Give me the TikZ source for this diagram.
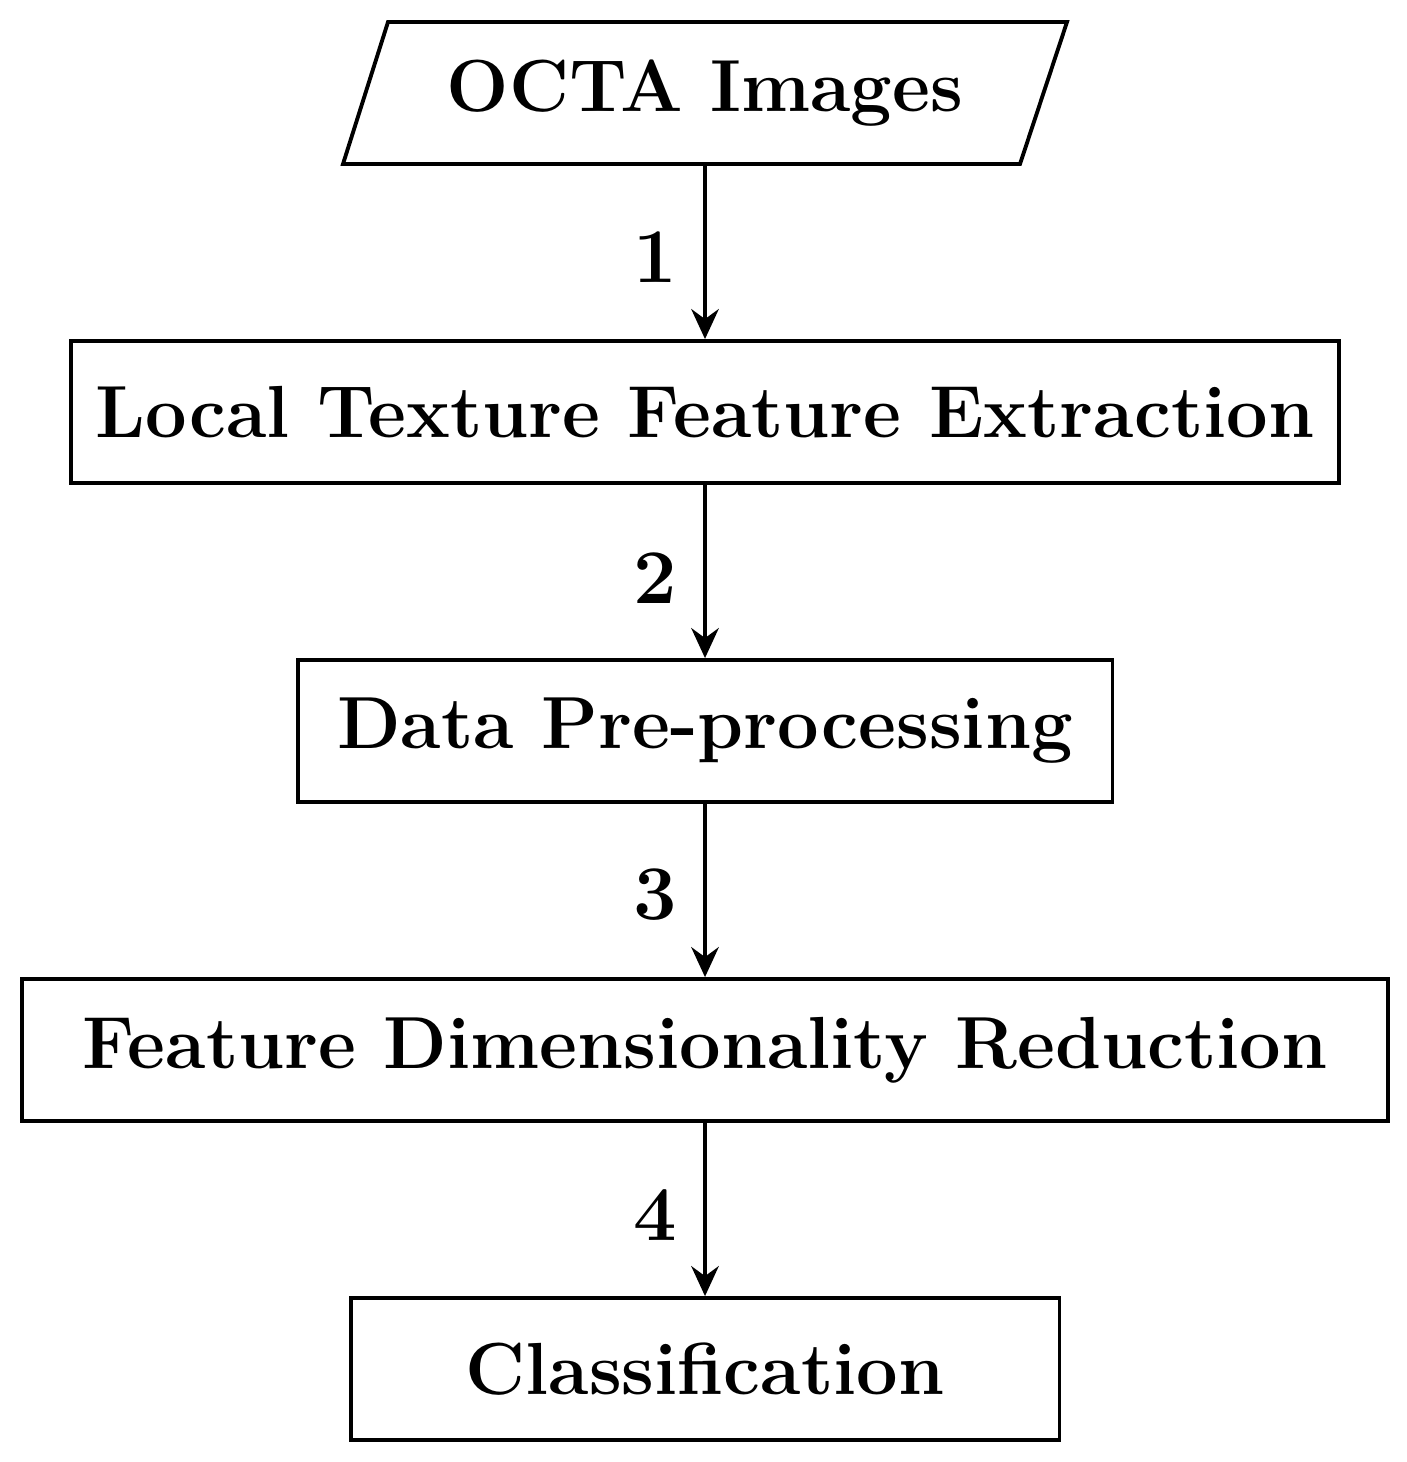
\documentclass[tikz,border=0pt]{standalone}
\usetikzlibrary{arrows.meta}
\begin{document}
\begin{tikzpicture}[x=0.02cm,y=-0.02cm,
  box/.style={draw,line width=2.2pt,minimum height=2.84cm,inner sep=0pt,font=\fontsize{42}{52}\selectfont\bfseries},
  lab/.style={font=\fontsize{44}{54}\selectfont\bfseries},
  arr/.style={line width=2.2pt,-{Stealth[length=0.6cm,width=0.55cm,inset=0.2cm]}}]
\useasboundingbox (0,0) rectangle (1406,1462);
\draw[line width=2.2pt] (388,22) -- (1067,22) -- (1020,164) -- (343,164) -- cycle;
\node[box,draw=none,minimum height=2.84cm] (in) at (705,93) {OCTA Images};
\node[box,minimum width=25.36cm] (b1) at (705,412) {Local Texture Feature Extraction};
\node[box,minimum width=16.3cm] (b2) at (705,731) {Data Pre-processing};
\node[box,minimum width=27.32cm] (b3) at (705,1050) {Feature Dimensionality Reduction};
\node[box,minimum width=14.18cm] (b4) at (705,1369) {Classification};
\draw[arr] (in.south) -- (b1.north);
\draw[arr] (b1) -- (b2);
\draw[arr] (b2) -- (b3);
\draw[arr] (b3) -- (b4);
\node[lab] (l1) at (655,257) {1};
\node[lab] (l2) at (655,578) {2};
\node[lab] (l3) at (655,895) {3};
\node[lab] (l4) at (655,1215) {4};
\end{tikzpicture}
\end{document}
